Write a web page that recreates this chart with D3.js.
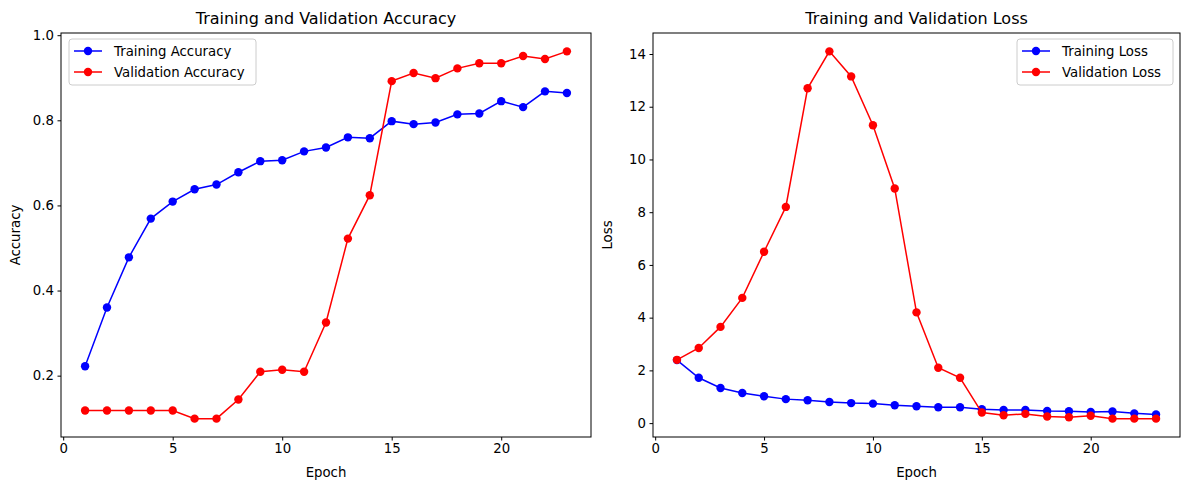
<!DOCTYPE html>
<html><head><meta charset="utf-8">
<script src="https://cdn.jsdelivr.net/npm/d3@7"></script>
<style>body{margin:0;background:#fff;font-family:"DejaVu Sans",sans-serif;}</style>
</head><body><svg id="chart" width="1189" height="490"></svg>
<script>
var epochs = d3.range(1, 24);
var trainAcc = [0.222,0.36,0.478,0.569,0.609,0.638,0.649,0.678,0.704,0.706,0.727,0.736,0.76,0.758,0.798,0.791,0.795,0.814,0.816,0.845,0.831,0.868,0.864];
var valAcc = [0.118,0.118,0.118,0.118,0.118,0.099,0.099,0.144,0.209,0.214,0.209,0.325,0.522,0.624,0.892,0.911,0.899,0.922,0.934,0.934,0.951,0.944,0.962];
var trainLoss = [2.39,1.72,1.33,1.14,1.02,0.91,0.87,0.8,0.76,0.74,0.68,0.64,0.6,0.6,0.53,0.5,0.5,0.46,0.45,0.42,0.44,0.37,0.33];
var valLoss = [2.4,2.85,3.65,4.75,6.5,8.2,12.7,14.1,13.15,11.3,8.9,4.2,2.1,1.72,0.4,0.3,0.35,0.25,0.22,0.28,0.17,0.17,0.17];
var xTicks = [0,5,10,15,20];
var accTicks = [0.2,0.4,0.6,0.8,1.0];
var lossTicks = [0,2,4,6,8,10,12,14];

var svg = d3.select('#chart');

function drawPanel(left, right, title, ylabel, series, yTicks, yFmt, legendRight) {
	var top = 33, bottom = 437;
	var all = series[0].values.concat(series[1].values);
	var lo = d3.min(all), hi = d3.max(all), m = (hi - lo) * 0.05;
	var x = d3.scaleLinear().domain([-0.1, 24.1]).range([left, right]);
	var y = d3.scaleLinear().domain([lo - m, hi + m]).range([bottom, top]);
	var g = svg.append('g');

	g.append('g').attr('transform', 'translate(0,' + bottom + ')')
		.call(d3.axisBottom(x).tickValues(xTicks).tickSize(3.5).tickPadding(3.5).tickFormat(d3.format('d')));
	g.append('g').attr('transform', 'translate(' + left + ',0)')
		.call(d3.axisLeft(y).tickValues(yTicks).tickSize(3.5).tickPadding(3.5).tickFormat(yFmt));
	g.selectAll('.domain').remove();
	g.selectAll('.tick text').attr('font-size', 13.3).attr('font-family', 'DejaVu Sans').attr('fill', '#000');
	g.selectAll('.tick line').attr('stroke', '#000');

	series.forEach(function(s) {
		var line = d3.line().x(function(d, i) { return x(epochs[i]); }).y(function(d) { return y(d); });
		g.append('path').datum(s.values).attr('d', line).attr('fill', 'none').attr('stroke', s.color).attr('stroke-width', 1.5);
		g.selectAll(null).data(s.values).enter().append('circle')
			.attr('cx', function(d, i) { return x(epochs[i]); }).attr('cy', function(d) { return y(d); })
			.attr('r', 4.2).attr('fill', s.color);
	});

	g.append('rect').attr('x', left).attr('y', top).attr('width', right - left).attr('height', bottom - top)
		.attr('fill', 'none').attr('stroke', '#000').attr('stroke-width', 1);

	g.append('text').attr('x', (left + right) / 2).attr('y', top - 9).attr('text-anchor', 'middle')
		.attr('font-size', 16).text(title);
	g.append('text').attr('x', (left + right) / 2).attr('y', 477).attr('text-anchor', 'middle')
		.attr('font-size', 13.3).text('Epoch');
	g.append('text').attr('transform', 'translate(' + (left - 41) + ',' + ((top + bottom) / 2) + ') rotate(-90)')
		.attr('text-anchor', 'middle').attr('font-size', 13.3).text(ylabel);

	// legend
	var lw = legendRight ? 156 : 187;
	var lx = legendRight ? right - lw - 7 : left + 8;
	var ly = top + 6;
	g.append('rect').attr('x', lx).attr('y', ly).attr('width', lw).attr('height', 46).attr('rx', 3)
		.attr('fill', '#fff').attr('fill-opacity', 0.8).attr('stroke', '#ccc');
	series.forEach(function(s, i) {
		var yy = ly + 12 + i * 21;
		g.append('line').attr('x1', lx + 5).attr('x2', lx + 33).attr('y1', yy).attr('y2', yy)
			.attr('stroke', s.color).attr('stroke-width', 1.5);
		g.append('circle').attr('cx', lx + 19).attr('cy', yy).attr('r', 4.2).attr('fill', s.color);
		g.append('text').attr('x', lx + 45).attr('y', yy + 5).attr('font-size', 13.3).text(s.name);
	});
}

drawPanel(61, 591, 'Training and Validation Accuracy', 'Accuracy',
	[{name: 'Training Accuracy', values: trainAcc, color: 'blue'}, {name: 'Validation Accuracy', values: valAcc, color: 'red'}],
	accTicks, d3.format('.1f'), false);
drawPanel(653, 1180, 'Training and Validation Loss', 'Loss',
	[{name: 'Training Loss', values: trainLoss, color: 'blue'}, {name: 'Validation Loss', values: valLoss, color: 'red'}],
	lossTicks, d3.format('d'), true);
</script></body></html>
